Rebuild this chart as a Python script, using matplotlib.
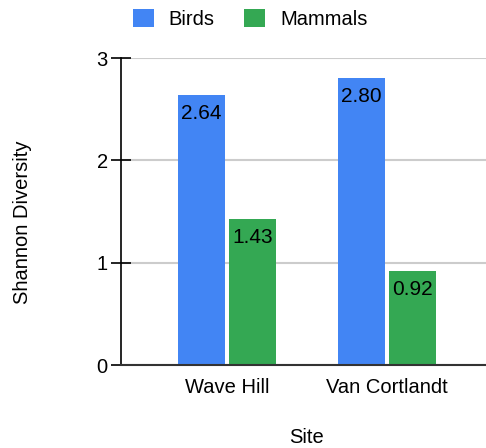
import matplotlib
matplotlib.use("Agg")
import matplotlib.pyplot as plt
import numpy as np

sites = ["Wave Hill", "Van Cortlandt"]
birds = [2.64, 2.80]
mammals = [1.43, 0.92]
yticks = [0, 1, 2, 3]

plt.rcParams['font.family'] = ['Liberation Sans', 'DejaVu Sans']
FS = 14.5
BLUE = "#4285F4"
GREEN = "#34A853"

W, H = 486, 448
fig = plt.figure(figsize=(W / 100, H / 100), dpi=100)
ax = fig.add_axes([121 / W, 1 - 365 / H, (486 - 121) / W, (365 - 58) / H])

x = np.arange(len(sites))
bw = 0.294
off = 0.16
b1 = ax.bar(x - off, birds, bw, color=BLUE, label="Birds", zorder=3)
b2 = ax.bar(x + off, mammals, bw, color=GREEN, label="Mammals", zorder=3)

for bars, vals in ((b1, birds), (b2, mammals)):
    for r, v in zip(bars, vals):
        ax.annotate(f"{v:.2f}", (r.get_x() + r.get_width() / 2, r.get_height()),
                    xytext=(0, -6.5), textcoords="offset points",
                    ha="center", va="top", fontsize=FS + 0.5, color="black", zorder=4)

ax.set_xlim(-0.6625, 1.619)
ax.set_ylim(0, 3)
ax.set_yticks(yticks)
ax.set_yticklabels([str(t) for t in yticks], fontsize=FS)
ax.set_xticks(x)
ax.set_xticklabels(sites, fontsize=FS)
ax.tick_params(axis="x", length=0, pad=9)
ax.tick_params(axis="y", direction="inout", length=15, width=1.2, color="black", pad=2)

ax.grid(axis="y", color="#cccccc", linewidth=1.5, zorder=0)
ax.set_axisbelow(True)
for s in ("top", "right"):
    ax.spines[s].set_visible(False)
ax.spines["left"].set_color("black")
ax.spines["left"].set_linewidth(1.2)
ax.spines["bottom"].set_color("#333333")
ax.spines["bottom"].set_linewidth(1.5)
ax.spines["bottom"].set_zorder(5)

fig.text(22 / W, 1 - 222 / H, "Shannon Diversity", rotation=90,
         ha="center", va="center", fontsize=FS)
fig.text(307 / W, 1 - 437 / H, "Site", ha="center", va="center", fontsize=FS)

fig.legend(handles=[b1, b2], labels=["Birds", "Mammals"], loc="center",
           bbox_to_anchor=(250 / W, 1 - 19 / H), ncol=2, frameon=False,
           fontsize=FS, handlelength=1.05, handleheight=1.0,
           handletextpad=0.75, columnspacing=1.44)

fig.savefig("out.png", dpi=100)
